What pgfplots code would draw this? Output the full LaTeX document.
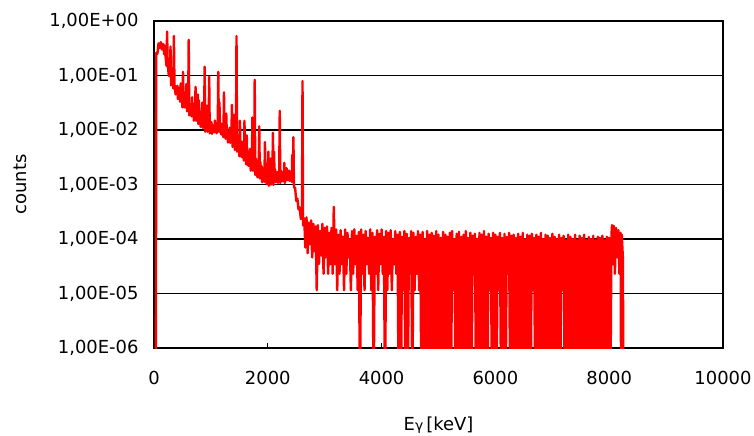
\documentclass[border=0pt]{standalone}
\usepackage{fontspec}
\setmainfont{DejaVu Sans}
\usepackage{pgfplots}
\pgfplotsset{compat=1.18}
\usepackage{pgfplotstable}

\pgfplotstableread{
x y
0 1e-9
30 1e-9
40 0.26
60 0.25
80 0.39
100 0.32
120 0.41
140 0.30
160 0.38
180 0.245
186 0.355
200 0.24
220 0.15
230 0.64
240 0.166
260 0.10
280 0.098
290 0.34
300 0.066
320 0.081
330 0.10
340 0.058
350 0.53
360 0.068
380 0.045
400 0.051
410 0.065
420 0.037
430 0.06
440 0.047
450 0.05
460 0.033
470 0.072
480 0.037
490 0.045
500 0.026
510 0.117
520 0.034
540 0.026
550 0.04
560 0.032
570 0.07
580 0.022
600 0.025
610 0.45
620 0.0186
640 0.0245
660 0.0178
670 0.04
680 0.0204
690 0.028
700 0.0148
720 0.0195
730 0.062
740 0.0148
750 0.025
760 0.0186
770 0.045
780 0.0129
790 0.035
800 0.0151
810 0.022
820 0.0115
840 0.0151
850 0.032
860 0.011
870 0.02
880 0.0129
890 0.145
900 0.0093
920 0.0123
930 0.028
940 0.0093
950 0.016
960 0.012
970 0.095
980 0.0087
1000 0.0107
1010 0.014
1020 0.0085
1040 0.012
1060 0.0091
1070 0.015
1080 0.0115
1100 0.0087
1120 0.012
1130 0.117
1140 0.0093
1150 0.032
1160 0.012
1180 0.0083
1190 0.013
1200 0.0098
1220 0.0074
1230 0.049
1240 0.0098
1250 0.012
1260 0.0069
1270 0.02
1280 0.0081
1290 0.0095
1300 0.0059
1320 0.0078
1330 0.011
1340 0.0058
1360 0.0072
1370 0.029
1380 0.0049
1390 0.0085
1400 0.0058
1410 0.019
1420 0.0043
1430 0.0075
1440 0.0056
1450 0.53
1460 0.004
1480 0.0047
1490 0.0065
1500 0.0033
1510 0.0148
1520 0.0043
1530 0.0062
1540 0.0032
1550 0.006
1560 0.004
1580 0.00275
1590 0.0148
1600 0.00316
1610 0.005
1620 0.00234
1630 0.008
1640 0.0031
1660 0.0022
1670 0.004
1680 0.0026
1690 0.0045
1700 0.0018
1710 0.0035
1720 0.0024
1730 0.017
1740 0.00178
1750 0.004
1760 0.00224
1770 0.083
1780 0.0015
1790 0.003
1800 0.00178
1820 0.00135
1830 0.0028
1840 0.00178
1850 0.0117
1860 0.00129
1870 0.0026
1880 0.0015
1890 0.0022
1900 0.0011
1920 0.00145
1930 0.002
1940 0.00112
1950 0.006
1960 0.00145
1970 0.0021
1980 0.00102
2000 0.00123
2010 0.004
2020 0.00095
2040 0.00132
2050 0.003
2060 0.001
2080 0.00126
2090 0.0089
2100 0.00098
2110 0.004
2120 0.00135
2130 0.0019
2140 0.0011
2160 0.00145
2170 0.0017
2180 0.00107
2200 0.00135
2210 0.0224
2220 0.00107
2230 0.0018
2240 0.00148
2260 0.00115
2270 0.0017
2280 0.00141
2290 0.0025
2300 0.00107
2320 0.0015
2330 0.002
2340 0.0012
2360 0.00162
2370 0.0018
2380 0.00117
2390 0.0017
2400 0.00148
2420 0.00112
2430 0.0035
2440 0.00138
2450 0.0074
2460 0.00089
2480 0.00087
2500 0.0005
2520 0.00055
2540 0.00035
2560 0.00038
2580 0.000234
2600 0.00025
2610 0.079
2620 0.000178
2640 24e-5
2660 7e-5
2680 25e-5
2700 5.5e-5
2720 20e-5
2740 8e-5
2760 22e-5
2780 4.6e-5
2800 19e-5
2820 6e-5
2840 17e-5
2860 1.15e-5
2880 18e-5
2900 3.5e-5
2920 14e-5
2940 5e-5
2960 19e-5
2980 2.3e-5
3000 16e-5
3020 4.6e-5
3040 17e-5
3060 2.3e-5
3080 13e-5
3100 3.45e-5
3120 16e-5
3140 2.3e-5
3160 39e-5
3180 3.45e-5
3200 15e-5
3220 1.15e-5
3240 12e-5
3260 2.3e-5
3280 14.5e-5
3300 3.45e-5
3320 11e-5
3340 1.15e-5
3360 15e-5
3380 2.3e-5
3400 13e-5
3420 4.6e-5
3440 10e-5
3460 1.15e-5
3480 14e-5
3500 2.3e-5
3520 15e-5
3540 3.45e-5
3560 11.5e-5
3580 1.15e-5
3600 13.5e-5
3620 1e-7
3640 15e-5
3660 2.3e-5
3680 12e-5
3700 1.15e-5
3720 14e-5
3740 3.45e-5
3760 10.5e-5
3780 2.3e-5
3800 15e-5
3820 1.15e-5
3840 13e-5
3860 1e-7
3880 11e-5
3900 2.3e-5
3920 14.5e-5
3940 1.15e-5
3960 12.5e-5
3980 3.45e-5
4000 15e-5
4020 2.3e-5
4040 11e-5
4060 1e-7
4080 14e-5
4100 1.15e-5
4120 13e-5
4140 2.3e-5
4160 14.5e-5
4180 1.15e-5
4200 10e-5
4220 3.45e-5
4240 14e-5
4260 2.3e-5
4280 12e-5
4300 1e-7
4320 13.5e-5
4340 1e-7
4360 11e-5
4380 1.15e-5
4400 14e-5
4420 1e-7
4440 12.5e-5
4460 1e-7
4480 10.5e-5
4500 2.3e-5
4520 14e-5
4540 1e-7
4560 13e-5
4580 1.15e-5
4600 11e-5
4620 2.3e-5
4640 14e-5
4660 1.15e-5
4680 12e-5
4700 1e-7
4720 13.5e-5
4740 1e-7
4760 10e-5
4780 1e-7
4800 14e-5
4820 1e-7
4840 12e-5
4860 1e-7
4880 13e-5
4900 1e-7
4920 11.5e-5
4940 1e-7
4960 14e-5
4980 1e-7
5000 12e-5
5020 1e-7
5040 10.5e-5
5060 1e-7
5080 13.5e-5
5100 1e-7
5120 12e-5
5140 1e-7
5160 11e-5
5180 1e-7
5200 13e-5
5220 1e-7
5240 14e-5
5260 1.15e-5
5280 10e-5
5300 1e-7
5320 12.5e-5
5340 1e-7
5360 13.5e-5
5380 1e-7
5400 11e-5
5420 1e-7
5440 12e-5
5460 1e-7
5480 14e-5
5500 1e-7
5520 10.5e-5
5540 1e-7
5560 13e-5
5580 1e-7
5600 11.5e-5
5620 2.3e-5
5640 12.5e-5
5660 1e-7
5680 10e-5
5700 1e-7
5720 13e-5
5740 1e-7
5760 12e-5
5780 1e-7
5800 14e-5
5820 1e-7
5840 11e-5
5860 1e-7
5880 12.5e-5
5900 1.15e-5
5920 10.5e-5
5940 1e-7
5960 13e-5
5980 1e-7
6000 12e-5
6020 1e-7
6040 11e-5
6060 1.15e-5
6080 13e-5
6100 1e-7
6120 10.5e-5
6140 1e-7
6160 12.5e-5
6180 1e-7
6200 11e-5
6220 2.3e-5
6240 13e-5
6260 1e-7
6280 11.5e-5
6300 1e-7
6320 12e-5
6340 1e-7
6360 10.5e-5
6380 1e-7
6400 12.5e-5
6420 1e-7
6440 11e-5
6460 1e-7
6480 13e-5
6500 1e-7
6520 10e-5
6540 1e-7
6560 12e-5
6580 1e-7
6600 11.5e-5
6620 1e-7
6640 12.5e-5
6660 1.15e-5
6680 10.5e-5
6700 1e-7
6720 12e-5
6740 1e-7
6760 11e-5
6780 1e-7
6800 13e-5
6820 1e-7
6840 10e-5
6860 1e-7
6880 12e-5
6900 1e-7
6920 11.5e-5
6940 1e-7
6960 10.5e-5
6980 1e-7
7000 12.5e-5
7020 1e-7
7040 11e-5
7060 1e-7
7080 10e-5
7100 1e-7
7120 12e-5
7140 1e-7
7160 10.5e-5
7180 1.15e-5
7200 11.5e-5
7220 1e-7
7240 9.5e-5
7260 1e-7
7280 12e-5
7300 1e-7
7320 11e-5
7340 1e-7
7360 10e-5
7380 1e-7
7400 12e-5
7420 1e-7
7440 9.5e-5
7460 1e-7
7480 11.5e-5
7500 1e-7
7520 10.5e-5
7540 1e-7
7560 12e-5
7580 1e-7
7600 9.5e-5
7620 1e-7
7640 11e-5
7660 1e-7
7680 10e-5
7700 1e-7
7720 11.5e-5
7740 1e-7
7760 9.5e-5
7780 1e-7
7800 11e-5
7820 1e-7
7840 10.5e-5
7860 1e-7
7880 11.5e-5
7900 1e-7
7920 9.5e-5
7940 1e-7
7960 11e-5
7980 1e-7
8000 10.5e-5
8020 1e-7
8040 12e-5
8050 18e-5
8060 3.45e-5
8080 17.5e-5
8100 2.3e-5
8120 16e-5
8140 4.6e-5
8160 14.5e-5
8180 2.3e-5
8200 13e-5
8210 1e-7
8220 12e-5
8240 4.6e-5
8260 1e-9
8300 1e-9
}\spectrum

\begin{document}
\begin{tikzpicture}
\begin{axis}[
  scale only axis,
  width=569bp, height=327bp,
  xmin=0, xmax=10000,
  ymode=log, ymin=1e-6, ymax=1,
  scaled x ticks=false,
  xtick={0,2000,4000,6000,8000,10000},
  xticklabels={0,2000,4000,6000,8000,10000},
  ytick={1e-6,1e-5,1e-4,1e-3,1e-2,1e-1,1},
  yticklabels={{1,00E-06},{1,00E-05},{1,00E-04},{1,00E-03},{1,00E-02},{1,00E-01},{1,00E+00}},
  minor tick num=0,
  ymajorgrids,
  major grid style={black, line width=1.3bp},
  axis line style={black, line width=1.8bp},
  xtick pos=lower, ytick pos=left,
  tick align=inside,
  major tick length=5bp,
  xtick style={black, line width=1bp},
  ytick style={draw=none},
  ticklabel style={font=\fontsize{18}{20}\selectfont},
  yticklabel style={xshift=-12bp},
  xticklabel style={yshift=-20bp},
  xlabel={E{\fontsize{14}{14}\selectfont γ}\,[keV]},
  ylabel={counts},
  every axis x label/.style={at={(axis description cs:0.5,-0.2355)}, anchor=center, font=\fontsize{18}{20}\selectfont},
  every axis y label/.style={at={(axis description cs:-0.2355,0.5)}, rotate=90, anchor=center, font=\fontsize{18}{20}\selectfont},
]
\addplot[red, line width=2.4bp, line join=round, line cap=round, no markers] table[x=x, y=y] {\spectrum};
\end{axis}
\pgfresetboundingbox
\path[use as bounding box] ([xshift=-154bp,yshift=-88bp]current axis.south west) rectangle ([xshift=31bp,yshift=21bp]current axis.north east);
\end{tikzpicture}
\end{document}
